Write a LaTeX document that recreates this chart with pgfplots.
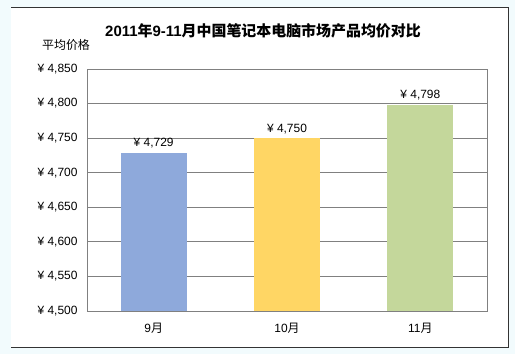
\documentclass[border=0pt]{standalone}
\usepackage{fontspec}
\setmainfont{Liberation Sans}
\newfontfamily\cjk{Noto Sans CJK SC}
\usepackage{pgfplots}
\pgfplotsset{compat=1.18}
\definecolor{bgc}{RGB}{242,251,253}
\definecolor{barblue}{RGB}{142,169,219}
\definecolor{baryellow}{RGB}{255,214,100}
\definecolor{bargreen}{RGB}{196,215,155}
\definecolor{gridc}{RGB}{128,128,128}
\begin{document}
\begin{tikzpicture}[x=1bp,y=1bp]
\fill[bgc] (0,0) rectangle (515,354);
\fill[white] (11,7) rectangle (508,346);
\draw[black!80, line width=1bp] (11,346) -- (508,346) -- (508,7) -- (11,7);
\node[font=\fontsize{15}{15}\selectfont\bfseries] at (263,323) {2011{\cjk 年}9-11{\cjk 月中国笔记本电脑市场产品均价对比}};
\node[font=\fontsize{12}{12}\selectfont] at (66,309) {\cjk 平均价格};
\begin{axis}[
  at={(87bp,43bp)}, anchor=south west,
  scale only axis, width=400bp, height=242bp,
  xmin=-0.5, xmax=2.5, ymin=4500, ymax=4850,
  xtick={0,1,2}, xticklabels={{9\cjk 月},{10\cjk 月},{11\cjk 月}},
  ytick={4500,4550,4600,4650,4700,4750,4800,4850},
  yticklabels={{¥ 4,500},{¥ 4,550},{¥ 4,600},{¥ 4,650},{¥ 4,700},{¥ 4,750},{¥ 4,800},{¥ 4,850}},
  major tick length=0pt,
  ymajorgrids, grid style={gridc, line width=0.8bp},
  axis line style={gridc, line width=0.8bp},
  tick label style={font=\fontsize{12}{12}\selectfont},
  yticklabel style={xshift=-6bp},
  xticklabel style={yshift=-9bp},
  /pgf/number format/assume math mode=true,
  nodes near coords={¥ \pgfmathprintnumber[assume math mode=true,1000 sep={,}]{\pgfplotspointmeta}},
  nodes near coords style={font=\fontsize{12}{12}\selectfont, black, yshift=1bp},
]
\addplot[ybar, bar width=66bp, fill=barblue, draw=none] coordinates {(0,4729)};
\addplot[ybar, bar width=66bp, fill=baryellow, draw=none] coordinates {(1,4750)};
\addplot[ybar, bar width=66bp, fill=bargreen, draw=none] coordinates {(2,4798)};
\end{axis}
\end{tikzpicture}
\end{document}
